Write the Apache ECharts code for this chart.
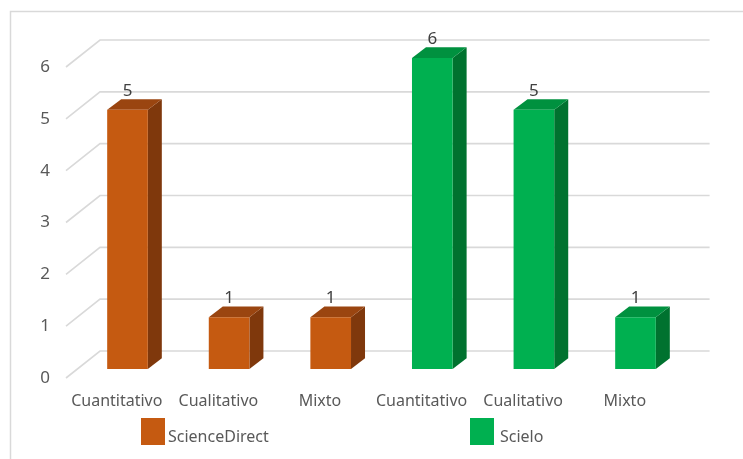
<!DOCTYPE html>
<html><head><meta charset="utf-8">
<script src="https://cdn.jsdelivr.net/npm/echarts@6/dist/echarts.min.js"></script>
<style>html,body{margin:0;padding:0;background:#fff}#c{width:743px;height:459px}</style>
</head><body><div id="c"></div>
<script>
const categories = ['Cuantitativo','Cualitativo','Mixto','Cuantitativo','Cualitativo','Mixto'];
const scienceDirectValues = [5, 1, 1];
const scieloValues = [6, 5, 1];
const yTicks = [0, 1, 2, 3, 4, 5, 6];

const FONT = '"Noto Sans", sans-serif';
const TXT = '#595959';
const DX = 14, DY = -10.7;           // bar depth offset
const BACK = [23.3, -18];            // bar plane -> back wall
const FRONT = [-10.7, 9];            // bar plane -> floor front edge

function barRender(colors) {
  return function (params, api) {
    const x = api.value(0), v = api.value(1);
    const top = api.coord([x, v]);
    const base = api.coord([x, 0]);
    const w = api.size([1, 0])[0] * 0.4;
    const x0 = top[0] - w / 2, x1 = top[0] + w / 2;
    const yt = top[1], yb = base[1];
    return {
      type: 'group',
      children: [
        { type: 'polygon', shape: { points: [[x1, yt], [x1 + DX, yt + DY], [x1 + DX, yb + DY], [x1, yb]] }, style: { fill: colors.side } },
        { type: 'polygon', shape: { points: [[x0, yt], [x0 + DX, yt + DY], [x1 + DX, yt + DY], [x1, yt]] }, style: { fill: colors.top } },
        { type: 'rect', shape: { x: x0, y: yt, width: w, height: yb - yt }, style: { fill: colors.front } },
        { type: 'text', style: { text: String(v), x: top[0], y: yt - 19, align: 'center', verticalAlign: 'middle', fill: '#404040', font: '17px ' + FONT } }
      ]
    };
  };
}

function gridRender(params, api) {
  const v = api.value(1);
  const cs = params.coordSys;
  const y = api.coord([0, v])[1];
  const L = cs.x, R = cs.x + cs.width;
  return {
    type: 'polyline',
    shape: { points: [[L + FRONT[0], y + FRONT[1]], [L + BACK[0], y + BACK[1]], [R + BACK[0], y + BACK[1]]] },
    style: { stroke: '#D9D9D9', lineWidth: 1.6, fill: null }
  };
}

const legendText = (left) => ({ color: TXT, fontSize: 16, fontFamily: FONT,
  rich: { t: { color: TXT, fontSize: 16, fontFamily: FONT, padding: [11, 0, 0, left] } } });

const chart = echarts.init(document.getElementById('c'));
chart.setOption({
  animation: false,
  graphic: [{ type: 'rect', shape: { x: 10.5, y: 11.5, width: 800, height: 500 }, style: { fill: null, stroke: '#D9D9D9', lineWidth: 1.5 }, silent: true }],
  grid: [
    { left: 76.7, right: 56.7, top: 58, bottom: 90 },
    { left: 66, right: 67.4, top: 67, bottom: 81 }
  ],
  xAxis: [
    { type: 'category', data: categories, gridIndex: 0, show: false },
    { type: 'category', data: categories, gridIndex: 1, axisLine: { show: false }, axisTick: { show: false },
      axisLabel: { margin: 15, color: TXT, fontSize: 16, fontFamily: FONT, interval: 0 } }
  ],
  yAxis: [
    { type: 'value', min: 0, max: 6, interval: 1, gridIndex: 0, show: false },
    { type: 'value', min: 0, max: 6, interval: 1, gridIndex: 1, axisLine: { show: false }, axisTick: { show: false }, splitLine: { show: false },
      axisLabel: { margin: 16, color: TXT, fontSize: 17, fontFamily: FONT } }
  ],
  legend: [
    { data: ['ScienceDirect'], left: 141, top: 418, padding: 0, icon: 'rect', itemWidth: 24, itemHeight: 27,
      formatter: '{t|{name}}', textStyle: legendText(-2) },
    { data: ['Scielo'], left: 470, top: 418, padding: 0, icon: 'rect', itemWidth: 24, itemHeight: 27,
      formatter: '{t|{name}}', textStyle: legendText(1) }
  ],
  series: [
    { type: 'custom', name: 'grid', silent: true, z: 1, xAxisIndex: 0, yAxisIndex: 0,
      data: yTicks.map(t => [0, t]), encode: { x: 0, y: 1 }, renderItem: gridRender },
    { type: 'custom', name: 'ScienceDirect', z: 3, xAxisIndex: 0, yAxisIndex: 0, itemStyle: { color: '#C55A11' },
      data: scienceDirectValues.map((v, i) => [i, v]), encode: { x: 0, y: 1 },
      renderItem: barRender({ front: '#C55A11', top: '#9A4510', side: '#7F380C' }) },
    { type: 'custom', name: 'Scielo', z: 3, xAxisIndex: 0, yAxisIndex: 0, itemStyle: { color: '#00B050' },
      data: scieloValues.map((v, i) => [i + 3, v]), encode: { x: 0, y: 1 },
      renderItem: barRender({ front: '#00B050', top: '#00913F', side: '#00722F' }) },
    { type: 'line', name: 'axes', xAxisIndex: 1, yAxisIndex: 1, data: [], silent: true }
  ]
});
</script></body></html>
